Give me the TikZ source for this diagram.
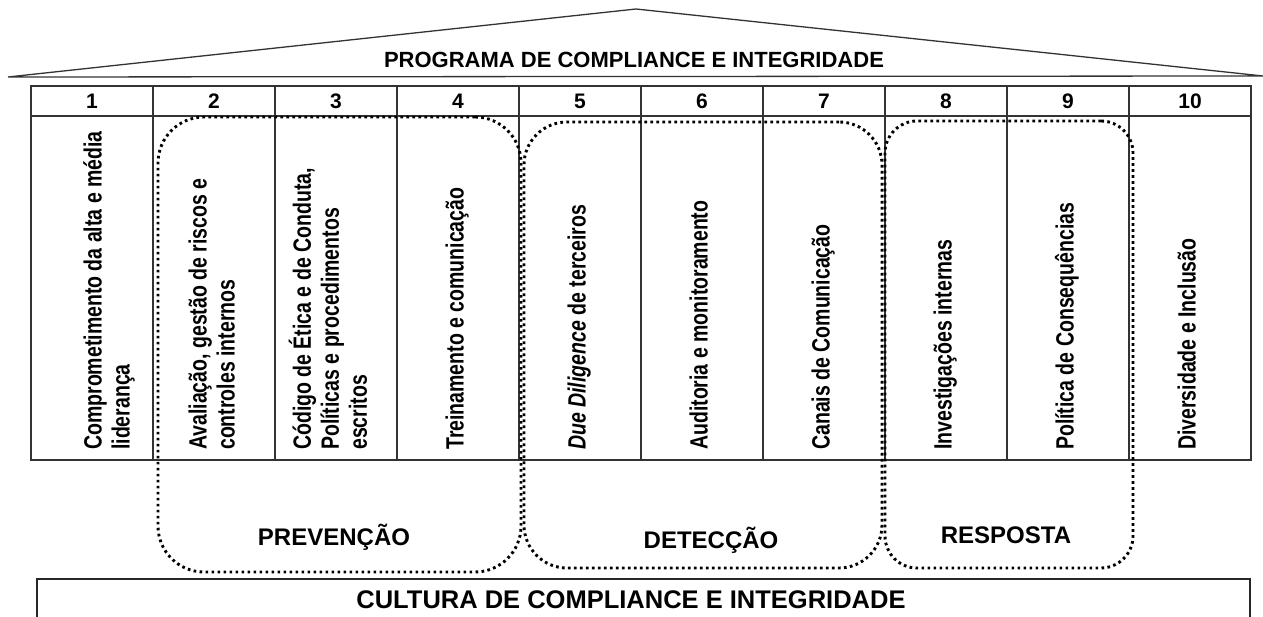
\documentclass[tikz,border=0pt]{standalone}
\usepackage{fontspec}
\setmainfont{Liberation Sans}
\usepackage{graphicx}
\newcommand\rotlines[1]{\scalebox{0.78}[1]{\begin{tabular}{@{}l@{}}#1\end{tabular}}}
\tikzset{
  tline/.style={draw=black!80, line width=1.2pt},
  numcell/.style={tline, minimum width=122pt, minimum height=30pt, inner sep=0pt,
    font=\fontsize{21}{23}\selectfont\bfseries},
  bodycell/.style={tline, minimum width=122pt, minimum height=344pt, inner sep=0pt},
  coltext/.style={rotate=90, anchor=west, inner sep=0pt,
    font=\fontsize{25}{28}\selectfont\bfseries},
  group/.style={draw=black, line width=2.9pt, dash pattern=on 2.7pt off 3.3pt,
    inner sep=0pt},
  grouplabel/.style={font=\fontsize{24}{26}\selectfont\bfseries, inner sep=0pt},
}
\begin{document}
\begin{tikzpicture}[x=1pt, y=-1pt]
\useasboundingbox (0,0) rectangle (1263,617);
\clip (0,0) rectangle (1263,617);
% roof
\coordinate (rl) at (8,77);
\coordinate (ra) at (636,9);
\coordinate (rr) at (1263,76);
\draw[draw=black!80, line width=1.3pt] (rl) -- (ra) -- (rr) -- (rl);
\node[font=\fontsize{22}{24}\selectfont\bfseries, inner sep=0pt] (title) at (634,60)
  {PROGRAMA DE COMPLIANCE E INTEGRIDADE};
% table
\foreach \i in {1,...,10} {
  \node[numcell] (n\i) at ({92+122*(\i-1)},101) {\i};
  \node[bodycell] (b\i) at ({92+122*(\i-1)},288) {};
}
% column texts
\node[coltext] (t1) at (110,450) {\rotlines{Comprometimento da alta e média\\liderança}};
\node[coltext] (t2) at (215,450) {\rotlines{Avaliação, gestão de riscos e\\controles internos}};
\node[coltext] (t3) at (332,450) {\rotlines{Código de Ética e de Conduta,\\Políticas e procedimentos\\escritos}};
\node[coltext] (t4) at (458,450) {\rotlines{Treinamento e comunicação}};
\node[coltext] (t5) at (580,450) {\rotlines{\textit{Due Diligence} de terceiros}};
\node[coltext] (t6) at (702,450) {\rotlines{Auditoria e monitoramento}};
\node[coltext] (t7) at (824,450) {\rotlines{Canais de Comunicação}};
\node[coltext] (t8) at (946,450) {\rotlines{Investigações internas}};
\node[coltext] (t9) at (1068,450) {\rotlines{Política de Consequências}};
\node[coltext] (t10) at (1190,450) {\rotlines{Diversidade e Inclusão}};
% groups
\node[group, rounded corners=46pt, minimum width=363pt, minimum height=455pt] (prev) at (339.5,344.5) {};
\node[group, rounded corners=43pt, minimum width=358pt, minimum height=446pt] (det) at (703,345) {};
\node[group, rounded corners=32pt, minimum width=248pt, minimum height=447pt] (resp) at (1009,344.5) {};
\node[grouplabel] (lprev) at (334,537) {PREVENÇÃO};
\node[grouplabel] (ldet) at (711,540) {DETECÇÃO};
\node[grouplabel] (lresp) at (1006,535) {RESPOSTA};
% base
\node[draw=black!85, line width=1.8pt, minimum width=1213pt, minimum height=80pt, inner sep=0pt,
  anchor=north west] (base) at (36,578) {};
\node[font=\fontsize{25.5}{27}\selectfont\bfseries, inner sep=0pt] (culture) at (631,600)
  {CULTURA DE COMPLIANCE E INTEGRIDADE};
\end{tikzpicture}
\end{document}
